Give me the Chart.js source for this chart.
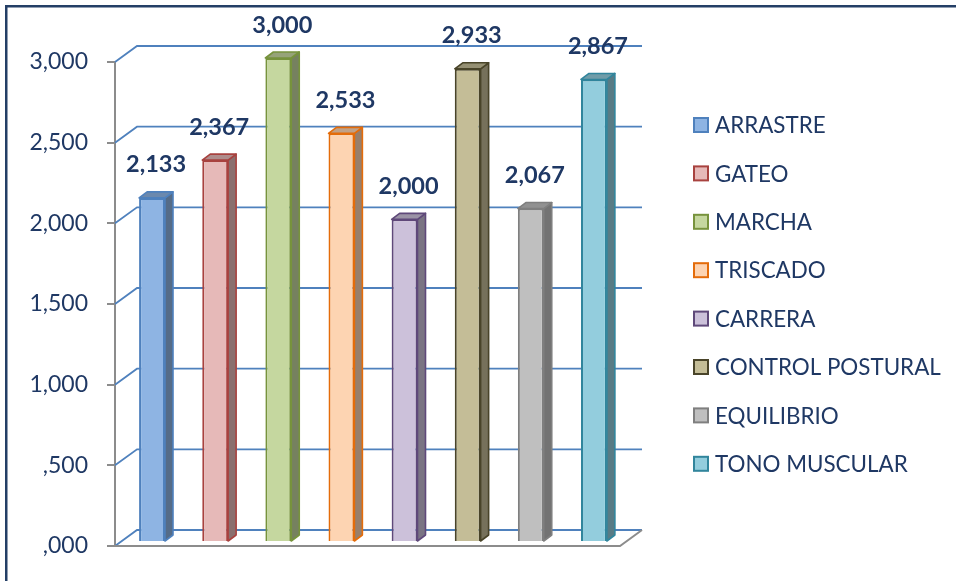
<!DOCTYPE html>
<html><head><meta charset="utf-8">
<script src="https://cdn.jsdelivr.net/npm/chart.js@4/dist/chart.umd.min.js"></script>
<style>html,body{margin:0;padding:0;background:#fff;}#wrap{width:956px;height:581px;}</style>
</head><body><div id="wrap"><canvas id="c" width="956" height="581"></canvas></div>
<script>
const categories = ['ARRASTRE','GATEO','MARCHA','TRISCADO','CARRERA','CONTROL POSTURAL','EQUILIBRIO','TONO MUSCULAR'];
const values = [2.133, 2.367, 3.000, 2.533, 2.000, 2.933, 2.067, 2.867];
const yTicks = [0, 0.5, 1, 1.5, 2, 2.5, 3];
const fillColors = ['#8EB4E3','#E6B9B8','#C5D79F','#FDD4B2','#CCC1DA','#C4BD97','#BFBFBF','#93CDDD'];
const borderColors = ['#4F81BD','#A8423F','#77933C','#E46C0A','#5F497A','#494429','#7F7F7F','#31859C'];

const TEXT = '#1F3864';
const FONT = 'Lato, "Liberation Sans", sans-serif';
const DX = 22, DY = -16;   // back-wall depth
const BX = 5.5, BY = -4;   // bar front offset from front plane
const SX = 8, SY = -6;     // bar depth

function fmt(v){ let s = Number(v).toFixed(3).replace('.', ','); if (s.startsWith('0')) s = s.slice(1); return s; }
function shade(hex, f){
  const n = parseInt(hex.slice(1),16);
  const r = Math.round(((n>>16)&255)*f), g = Math.round(((n>>8)&255)*f), b = Math.round((n&255)*f);
  return 'rgb('+r+','+g+','+b+')';
}

const threeD = {
  id: 'threeD',
  beforeDatasetsDraw(chart){
    const {ctx, chartArea:a, scales:{y}} = chart;
    ctx.save();
    ctx.strokeStyle = '#4F81BD'; ctx.lineWidth = 1.8;
    y.ticks.forEach(t => {
      const py = y.getPixelForValue(t.value);
      ctx.beginPath(); ctx.moveTo(a.left, py); ctx.lineTo(a.left+DX, py+DY); ctx.lineTo(a.right+DX, py+DY); ctx.stroke();
    });
    const by = y.getPixelForValue(0);
    ctx.strokeStyle = '#8C8C8C'; ctx.lineWidth = 2;
    ctx.beginPath(); ctx.moveTo(a.left-8, by); ctx.lineTo(a.right, by); ctx.lineTo(a.right+DX, by+DY); ctx.stroke();
    ctx.restore();
    ctx.save();
    ctx.translate(BX, BY);
  },
  afterDatasetsDraw(chart){
    const {ctx} = chart;
    ctx.restore();
    const meta = chart.getDatasetMeta(0);
    meta.data.forEach((bar, i) => {
      const p = bar.getProps(['x','y','base','width'], true);
      const l = p.x - p.width/2 + BX, r = p.x + p.width/2 + BX, t = p.y + BY, b = p.base + BY;
      ctx.save();
      ctx.lineWidth = 1.6; ctx.lineJoin = 'round';
      ctx.strokeStyle = borderColors[i];
      ctx.fillStyle = shade(fillColors[i], 0.6);
      ctx.beginPath(); ctx.moveTo(r, t); ctx.lineTo(r+SX, t+SY); ctx.lineTo(r+SX, b+SY); ctx.lineTo(r, b); ctx.closePath(); ctx.fill(); ctx.stroke();
      ctx.fillStyle = shade(fillColors[i], 0.76);
      ctx.beginPath(); ctx.moveTo(l, t); ctx.lineTo(l+SX, t+SY); ctx.lineTo(r+SX, t+SY); ctx.lineTo(r, t); ctx.closePath(); ctx.fill(); ctx.stroke();
      ctx.restore();
      ctx.save();
      ctx.fillStyle = TEXT; ctx.font = 'bold 23.5px ' + FONT;
      ctx.textAlign = 'center'; ctx.textBaseline = 'middle';
      ctx.fillText(fmt(values[i]), p.x + BX + SX/2, t + SY - 27);
      ctx.restore();
    });
  },
  afterDraw(chart){
    const {ctx} = chart;
    ctx.save();
    ctx.font = '22.4px ' + FONT; ctx.textBaseline = 'middle'; ctx.textAlign = 'left';
    categories.forEach((c, i) => {
      const cy = 125 + i*48.4;
      ctx.fillStyle = fillColors[i]; ctx.fillRect(694, cy-7, 14, 14);
      ctx.strokeStyle = borderColors[i]; ctx.lineWidth = 2; ctx.strokeRect(694, cy-7, 14, 14);
      ctx.fillStyle = TEXT; ctx.fillText(c, 715, cy+1);
    });
    ctx.fillStyle = '#243F66';
    ctx.fillRect(5, 5, 951, 2.5);
    ctx.fillRect(5, 5, 2.5, 576);
    ctx.restore();
  }
};

new Chart(document.getElementById('c'), {
  type: 'bar',
  data: {
    labels: categories,
    datasets: [{
      data: values,
      backgroundColor: fillColors,
      borderColor: borderColors,
      borderWidth: 2,
      barPercentage: 0.41,
      categoryPercentage: 1,
      clip: false
    }]
  },
  options: {
    responsive: false,
    devicePixelRatio: 1,
    animation: false,
    layout: { padding: { left: 0, right: 336, top: 62, bottom: 35 } },
    plugins: { legend: { display: false }, tooltip: { enabled: false } },
    scales: {
      x: { display: false },
      y: {
        min: 0, max: 3,
        afterBuildTicks(scale){ scale.ticks = yTicks.map(v => ({value: v})); },
        afterFit(scale){ scale.width = 115; },
        ticks: { padding: 19, color: TEXT, font: { family: FONT, size: 23 }, callback: v => fmt(v) },
        grid: { display: true, drawOnChartArea: false, drawTicks: true, tickLength: 8, color: '#8C8C8C', lineWidth: 2 },
        border: { display: true, color: '#8C8C8C', width: 2 }
      }
    }
  },
  plugins: [threeD]
});
</script></body></html>
